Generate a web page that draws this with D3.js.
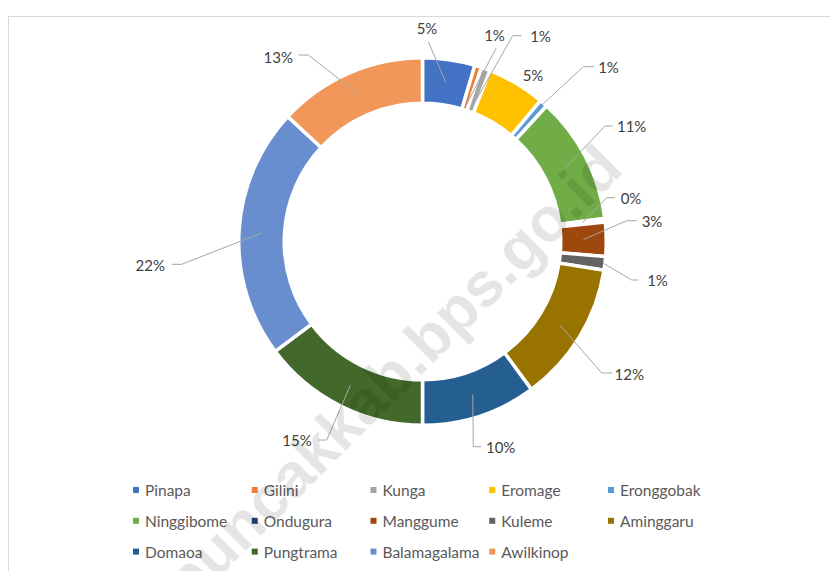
<!DOCTYPE html>
<html><head><meta charset="utf-8">
<script src="https://cdn.jsdelivr.net/npm/d3@7"></script>
<style>
html,body{margin:0;padding:0;background:#fff;}
svg{display:block;}
</style></head>
<body>
<svg id="chart" width="830" height="571"></svg>
<script>
// ---- data ----
const categories = ["Pinapa","Gilini","Kunga","Eromage","Eronggobak","Ninggibome","Ondugura","Manggume","Kuleme","Aminggaru","Domaoa","Pungtrama","Balamagalama","Awilkinop"];
const shares = [4.6, 0.6, 0.8, 5.1, 0.7, 11.2, 0.3, 3.0, 1.2, 12.4, 10.1, 14.8, 22.1, 13.1];
const labelTexts = ["5%","1%","1%","5%","1%","11%","0%","3%","1%","12%","10%","15%","22%","13%"];
const colors = ["#4472C4","#ED7D31","#A5A5A5","#FFC000","#5B9BD5","#70AD47","#264478","#9E480E","#636363","#997300","#255E91","#43682B","#698ED0","#F1975A"];

// ---- layout (label placement relative to the donut centre) ----
// text: label centre; pts: leader points from text side toward the slice; r: where the leader meets the slice
const labelLayout = [
  {text:[4.5,-213.2],  pts:[[5.8,-199.8]], r:"mid"},
  {text:[72,-206.5],   pts:[[73.5,-193.2]], r:"inner"},
  {text:[118,-205.5],  pts:[[99.2,-205.8],[90.2,-205.8]], r:"inner"},
  {text:[110.5,-166.5],pts:null, r:null},
  {text:[186,-174.8],  pts:[[171.8,-174.8],[160.8,-174.8]], r:"outer"},
  {text:[209.2,-115.5],pts:[[190.2,-115.5],[182.5,-115.5]], r:"mid"},
  {text:[208.5,-43.8], pts:[[192.5,-43.8],[184.2,-43.8]], r:"mid"},
  {text:[229.5,-20.8], pts:[[214.2,-20.8],[204.2,-20.8]], r:"mid"},
  {text:[235,38.5],    pts:[[215.8,38.5],[209.2,38.5]], r:"outer"},
  {text:[206.8,132.5], pts:[[189.5,131.5],[179.2,131.5]], r:"mid"},
  {text:[78.2,205.2],  pts:[[58.5,205.2],[50.8,205.2]], r:"mid"},
  {text:[-125.5,198.5],pts:[[-104.2,198.5],[-95.8,198.5]], r:"mid"},
  {text:[-272.2,23.5], pts:[[-250.8,22.8],[-240.8,22.8]], r:"mid"},
  {text:[-144.2,-184.8],pts:[[-124.2,-186.5],[-114.2,-186.5]], r:"mid"}
];

const W = 830, H = 571;
const cx = 422.5, cy = 241.5;
const strokeW = 3.5;
const outerR = 182 + strokeW/2, innerR = 140 - strokeW/2;
const font = "Lato, 'Open Sans', sans-serif";

const svg = d3.select("#chart");

// chart area frame
svg.append("rect").attr("x",8.5).attr("y",16.5).attr("width",900).attr("height",700)
  .attr("fill","#fff").attr("stroke","#d9d9d9").attr("stroke-width",1);

const data = categories.map((c,i)=>({name:c, value:shares[i], color:colors[i], label:labelTexts[i], layout:labelLayout[i]}));

const pie = d3.pie().value(d=>d.value).sort(null);
const arcs = pie(data);
const arc = d3.arc().innerRadius(innerR).outerRadius(outerR);

const g = svg.append("g").attr("transform",`translate(${cx},${cy})`);

g.selectAll("path.slice").data(arcs).join("path")
  .attr("class","slice")
  .attr("d",arc)
  .attr("fill",d=>d.data.color)
  .attr("stroke","#fff")
  .attr("stroke-width",strokeW)
  .attr("stroke-linejoin","miter");

// leader lines
const radii = {mid:(140+182)/2, inner:142, outer:182};
function anchor(d){
  const a = (d.startAngle+d.endAngle)/2;
  const r = radii[d.data.layout.r];
  return [r*Math.sin(a), -r*Math.cos(a)];
}
const line = d3.line();
g.selectAll("path.leader").data(arcs.filter(d=>d.data.layout.pts)).join("path")
  .attr("class","leader")
  .attr("d",d=>line([...d.data.layout.pts, anchor(d)]))
  .attr("fill","none").attr("stroke","#a6a6a6").attr("stroke-width",1);

g.selectAll("text.lbl").data(arcs).join("text")
  .attr("class","lbl")
  .attr("x",d=>d.data.layout.text[0]).attr("y",d=>d.data.layout.text[1])
  .attr("text-anchor","middle").attr("dominant-baseline","central")
  .attr("font-family",font).attr("font-size",15).attr("fill","#404040")
  .text(d=>d.data.label);

// legend
const legCols = 5, colW = 118.75, rowH = 30.8, legX = 133, legY = 490;
const leg = svg.append("g");
const items = leg.selectAll("g.item").data(data).join("g").attr("class","item")
  .attr("transform",(d,i)=>`translate(${legX + (i%legCols)*colW},${legY + Math.floor(i/legCols)*rowH})`);
items.append("rect").attr("x",0).attr("y",-3).attr("width",6).attr("height",6).attr("fill",d=>d.color);
items.append("text").attr("x",12).attr("y",0).attr("dominant-baseline","central")
  .attr("font-family",font).attr("font-size",15.5).attr("fill","#595959").text(d=>d.name);

// watermark
svg.append("text")
  .attr("transform","translate(392,374) rotate(-45)")
  .attr("text-anchor","middle").attr("dominant-baseline","central")
  .attr("font-family","'Liberation Sans', Arial, sans-serif").attr("font-weight","bold")
  .attr("font-size",62).attr("fill","#000").attr("fill-opacity",0.1)
  .text("puncakkab.bps.go.id");
</script>
</body></html>
